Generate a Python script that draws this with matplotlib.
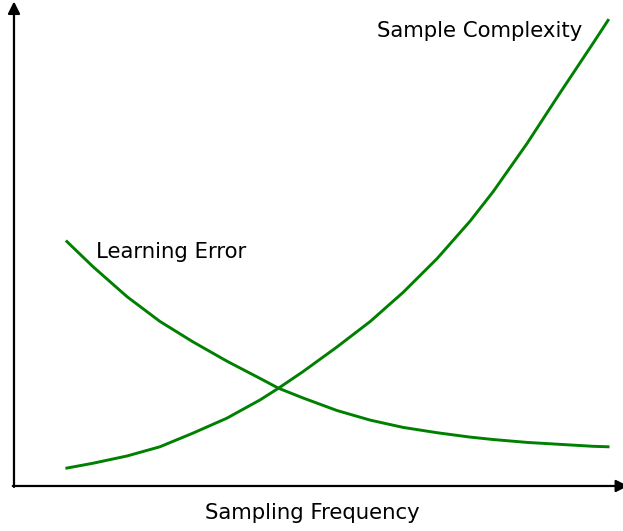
import matplotlib
matplotlib.use("Agg")
import matplotlib.pyplot as plt

# sampling frequency (arbitrary units) and curve values
freq = [0.87, 1.30, 1.86, 2.40, 2.94, 3.50, 4.05, 4.35, 4.75, 5.31,
        5.86, 6.40, 6.96, 7.50, 7.88, 8.44, 8.98, 9.52, 9.77]
sample_complexity = [0.37, 0.47, 0.62, 0.81, 1.09, 1.40, 1.78, 2.02, 2.36, 2.87,
                     3.40, 4.00, 4.70, 5.47, 6.08, 7.08, 8.12, 9.14, 9.62]
learning_error = [5.05, 4.53, 3.91, 3.40, 2.98, 2.58, 2.22, 2.02, 1.82, 1.56,
                  1.36, 1.21, 1.10, 1.01, 0.96, 0.90, 0.86, 0.82, 0.81]

fig = plt.figure(figsize=(6.23, 5.31), dpi=100)
ax = fig.add_axes([0, 0, 1, 1])
ax.set_xlim(-0.23, 10.016)
ax.set_ylim(-0.93, 10.04)
ax.axis('off')

ax.plot(freq, sample_complexity, color='green', lw=2.1, solid_joinstyle='round')
ax.plot(freq, learning_error, color='green', lw=2.1, solid_joinstyle='round')

# axes with arrow heads
arrow = dict(arrowstyle='-|>,head_width=0.36,head_length=0.72', color='black',
             lw=1.6, shrinkA=0, shrinkB=0)
ax.annotate('', xy=(0, 10.01), xytext=(0, -0.02), arrowprops=arrow,
            annotation_clip=False)
ax.annotate('', xy=(10.1, 0), xytext=(-0.02, 0), arrowprops=arrow,
            annotation_clip=False)

ax.text(9.34, 9.40, 'Sample Complexity', fontsize=15.3, ha='right', va='center')
ax.text(1.35, 4.83, 'Learning Error', fontsize=15.3, ha='left', va='center')
ax.text(4.90, -0.56, 'Sampling Frequency', fontsize=15.3, ha='center', va='center')

fig.savefig('out.png', dpi=100)
